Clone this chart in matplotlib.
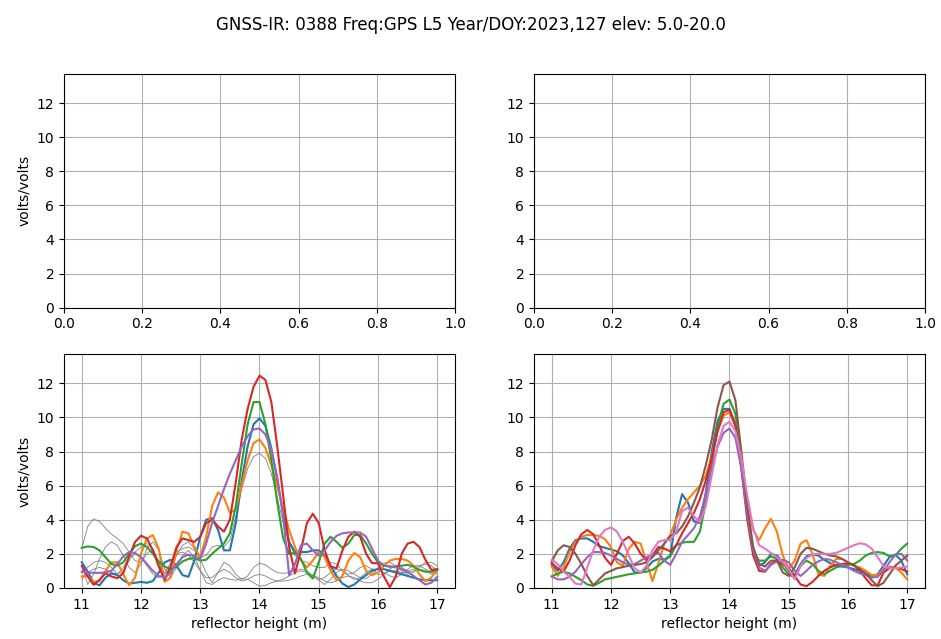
import numpy as np
import matplotlib
matplotlib.use("Agg")
import matplotlib.pyplot as plt

# reflector height grid (m)
rh = [round(11.0 + 0.1 * i, 1) for i in range(61)]

# ---------- bottom-left panel ----------
gray1 = [2.3, 3.6, 4.05, 3.9, 3.5, 3.15, 2.9, 2.6, 2.1, 1.6,
         1.5, 2.0, 2.3, 1.5, 0.6, 1.0, 1.9, 2.5, 2.7, 2.3,
         1.65, 0.9, 0.3, 0.9, 1.5, 1.3, 0.8, 0.5, 0.7, 1.2,
         1.45, 1.35, 1.1, 0.9, 0.85, 0.9, 1.0, 1.1, 1.0, 0.7,
         0.45, 0.2, 0.5, 0.9, 1.1, 1.0, 0.8, 0.6, 0.55, 0.8,
         1.2, 1.45, 1.5, 1.3, 1.0, 0.8, 0.9, 1.2, 1.5, 1.5, 1.3]
gray2 = [1.3, 0.2, 0.8, 1.7, 2.4, 2.7, 2.5, 1.9, 1.2, 0.9,
         1.4, 2.3, 2.7, 2.2, 1.1, 0.6, 1.2, 1.9, 2.2, 1.8,
         1.06, 0.3, 0.2, 0.45, 0.6, 0.5, 0.45, 0.55, 0.5, 0.3,
         0.1, 0.15, 0.3, 0.4, 0.4, 0.45, 0.55, 0.7, 0.8, 0.75,
         0.6, 0.4, 0.3, 0.4, 0.6, 0.7, 0.6, 0.4, 0.3, 0.3,
         0.5, 0.8, 1.0, 1.0, 0.9, 0.9, 1.0, 1.1, 1.0, 0.8, 0.9]
gray3 = [0.5, 0.9, 1.1, 1.2, 1.1, 0.9, 0.8, 1.2, 1.8, 2.0,
         1.8, 1.3, 0.8, 0.6, 0.9, 1.5, 2.0, 2.1, 1.9, 1.5,
         1.0, 0.6, 0.6, 0.9, 1.1, 0.9, 0.6, 0.4, 0.5, 0.7,
         0.8, 0.7, 0.5, 0.4, 0.5, 0.7, 0.9, 1.0, 0.9, 0.7,
         0.5, 0.6, 0.9, 1.1, 1.0, 0.7, 0.5, 0.6, 0.9, 1.1,
         1.1, 0.9, 0.7, 0.6, 0.8, 1.1, 1.3, 1.3, 1.1, 0.9, 0.8]
gray4 = [0.9, 1.2, 1.5, 1.6, 1.5, 1.2, 0.8, 1.0, 1.6, 2.1,
         2.4, 2.6, 2.3, 1.5, 0.8, 1.3, 2.1, 2.3, 2.4, 2.2,
         1.8, 1.9, 2.4, 2.5, 2.4, 2.8, 4.2, 5.8, 7.0, 7.7,
         7.9, 7.6, 6.7, 5.3, 3.8, 2.6, 1.9, 1.6, 1.5, 1.3,
         1.2, 1.2, 1.5, 1.4, 1.0, 0.8, 0.9, 1.2, 1.3, 1.1,
         0.8, 0.8, 1.1, 1.3, 1.2, 1.0, 1.1, 1.3, 1.4, 1.3, 1.0]

bl_blue = [1.5, 0.96, 0.3, 0.15, 0.6, 0.85, 0.75, 0.45, 0.25, 0.3,
           0.35, 0.3, 0.4, 0.9, 1.5, 1.65, 1.3, 0.75, 0.65, 1.6,
           3.0, 4.0, 4.1, 3.4, 2.2, 2.2, 3.8, 6.3, 8.3, 9.6,
           9.95, 9.5, 8.2, 6.3, 4.3, 2.7, 2.1, 2.1, 2.1, 2.2,
           2.2, 1.9, 1.3, 0.7, 0.25, 0.05, 0.2, 0.5, 0.75, 1.0,
           1.1, 1.1, 1.0, 0.9, 0.8, 0.7, 0.6, 0.5, 0.45, 0.45, 0.45]
bl_orange = [0.67, 0.7, 0.35, 0.4, 1.0, 1.5, 1.5, 0.8, 0.15, 0.6,
             2.0, 2.9, 3.1, 2.3, 0.35, 0.6, 2.2, 3.3, 3.2, 2.4,
             1.8, 3.0, 4.8, 5.6, 5.3, 4.4, 4.6, 6.0, 7.5, 8.5,
             8.7, 8.2, 7.2, 5.9, 4.7, 3.4, 2.4, 1.6, 1.2, 1.6,
             2.1, 1.8, 1.0, 0.45, 0.7, 1.6, 2.05, 1.8, 1.0, 0.75,
             0.9, 1.3, 1.6, 1.7, 1.7, 1.6, 1.3, 0.8, 0.4, 0.6, 1.1]
bl_green = [2.35, 2.43, 2.4, 2.2, 1.8, 1.4, 1.3, 1.5, 2.0, 2.45,
            2.6, 2.4, 2.0, 1.55, 1.25, 1.1, 1.25, 1.55, 1.7, 1.75,
            1.6, 1.65, 2.0, 2.3, 2.6, 3.2, 4.8, 7.3, 9.6, 10.9,
            10.9, 9.6, 7.5, 5.0, 2.9, 2.0, 2.05, 1.7, 0.9, 0.55,
            1.5, 2.6, 3.0, 2.7, 2.35, 2.6, 3.1, 3.1, 2.6, 2.0,
            1.5, 1.3, 1.25, 1.25, 1.3, 1.35, 1.25, 1.05, 0.95, 0.95, 1.05]
bl_red = [1.3, 0.67, 0.18, 0.47, 0.86, 0.67, 0.57, 0.86, 1.84, 2.7,
          3.06, 2.9, 2.2, 1.25, 0.47, 1.25, 2.4, 2.9, 2.8, 2.7,
          3.0, 3.8, 4.0, 3.6, 3.3, 4.0, 6.2, 8.7, 10.5, 11.8,
          12.45, 12.2, 10.9, 8.3, 5.4, 2.4, 0.85, 2.2, 3.8, 4.35,
          3.8, 2.2, 1.25, 1.15, 2.2, 3.0, 3.3, 3.0, 2.0, 1.45,
          1.45, 0.67, 0.04, 0.67, 2.0, 2.6, 2.7, 2.4, 1.65, 1.06, 1.1]
bl_purple = [0.96, 0.9, 0.88, 0.88, 0.9, 1.0, 1.4, 1.85, 2.1, 2.05,
             1.8, 1.4, 1.0, 0.7, 0.6, 0.9, 1.4, 1.8, 1.95, 1.85,
             1.7, 2.6, 3.8, 4.8, 5.8, 6.7, 7.5, 8.3, 8.9, 9.3,
             9.35, 9.0, 8.1, 6.5, 4.2, 0.75, 1.4, 2.5, 2.6, 2.2,
             1.9, 2.2, 2.7, 3.05, 3.2, 3.25, 3.25, 3.25, 3.0, 2.3,
             1.6, 1.3, 1.25, 1.2, 1.1, 0.95, 0.7, 0.45, 0.2, 0.3, 0.65]

# ---------- bottom-right panel ----------
br_blue = [1.35, 1.0, 1.5, 2.3, 2.8, 2.9, 2.9, 2.7, 2.45, 2.35,
           2.25, 2.15, 1.9, 1.45, 0.9, 0.9, 1.15, 1.55, 1.7, 1.65,
           1.9, 4.1, 5.5, 5.0, 3.9, 3.8, 5.6, 8.0, 9.8, 10.5,
           10.5, 9.6, 7.3, 4.5, 2.2, 1.3, 1.5, 2.0, 1.9, 1.5,
           1.0, 0.75, 1.4, 1.85, 1.95, 1.9, 1.65, 1.45, 1.3, 1.25,
           1.2, 1.1, 1.0, 0.85, 0.7, 0.8, 1.3, 1.8, 1.95, 1.6, 0.8]
br_orange = [1.25, 0.7, 1.2, 2.1, 2.7, 3.0, 3.1, 3.1, 3.05, 2.85,
             2.4, 1.5, 1.3, 2.3, 2.7, 2.6, 1.5, 0.4, 1.45, 2.6,
             3.1, 4.0, 4.7, 5.2, 5.6, 6.0, 6.6, 7.7, 9.2, 10.1,
             10.3, 9.5, 7.4, 4.9, 3.4, 2.8, 3.5, 4.05, 3.3, 1.9,
             1.1, 1.6, 2.6, 2.8, 2.0, 0.8, 0.7, 1.3, 1.7, 1.7,
             1.5, 1.3, 1.2, 1.0, 0.75, 0.75, 1.1, 1.25, 1.2, 0.9, 0.5]
br_green = [0.67, 0.85, 0.95, 0.85, 0.65, 0.45, 0.2, 0.12, 0.3, 0.5,
            0.57, 0.65, 0.72, 0.8, 0.85, 0.9, 0.95, 1.06, 1.3, 1.6,
            1.85, 2.5, 2.65, 2.7, 2.7, 3.3, 5.0, 7.3, 9.5, 10.8,
            11.05, 10.2, 7.6, 4.4, 2.1, 1.6, 1.6, 1.85, 1.7, 1.2,
            0.8, 0.6, 1.3, 1.6, 1.4, 1.0, 0.8, 1.0, 1.2, 1.3,
            1.35, 1.4, 1.6, 1.9, 2.05, 2.1, 2.05, 1.85, 1.9, 2.3, 2.6]
br_red = [1.45, 1.15, 0.96, 1.6, 2.5, 3.15, 3.4, 3.15, 2.5, 1.75,
          1.35, 2.0, 2.75, 3.0, 2.6, 2.0, 1.65, 1.9, 2.4, 2.3,
          2.15, 2.5, 3.2, 3.8, 4.4, 5.2, 6.3, 7.6, 9.2, 10.3,
          10.45, 9.5, 7.0, 4.0, 1.9, 1.0, 0.95, 1.4, 1.65, 1.4,
          1.15, 0.7, 0.2, 0.1, 0.35, 0.7, 1.0, 1.2, 1.35, 1.4,
          1.45, 1.35, 1.0, 0.55, 0.15, 0.15, 0.9, 1.15, 1.2, 1.1, 0.96]
br_purple = [0.67, 0.5, 0.5, 0.65, 0.95, 1.4, 1.8, 2.1, 2.1, 2.05,
             1.9, 1.7, 1.5, 1.35, 1.4, 1.6, 1.8, 1.95, 2.05, 1.6,
             1.35, 2.0, 2.7, 3.1, 3.5, 4.2, 5.5, 7.0, 8.3, 9.1,
             9.35, 8.8, 7.0, 4.3, 2.2, 1.2, 1.0, 1.35, 1.55, 1.65,
             1.5, 1.0, 0.7, 1.0, 1.35, 1.55, 1.7, 1.65, 1.5, 1.35,
             1.2, 1.0, 0.85, 0.75, 0.6, 0.65, 1.0, 1.5, 1.95, 2.0, 1.6]
br_brown = [1.55, 2.2, 2.5, 2.4, 2.0, 1.4, 0.7, 0.15, 0.5, 0.85,
            1.0, 1.15, 1.22, 1.3, 1.35, 1.4, 1.5, 1.8, 2.2, 2.6,
            3.05, 3.2, 3.6, 4.2, 5.0, 5.9, 7.2, 8.7, 10.6, 11.9,
            12.1, 11.0, 8.0, 4.8, 2.4, 1.4, 1.25, 1.6, 1.6, 0.9,
            0.7, 1.2, 2.0, 2.35, 2.3, 2.15, 2.0, 1.9, 1.85, 1.7,
            1.5, 1.3, 1.1, 0.85, 0.45, 0.1, 0.3, 0.8, 1.3, 1.6, 1.9]
br_pink = [1.65, 1.4, 0.95, 0.65, 0.25, 0.2, 1.2, 2.2, 3.0, 3.4,
           3.55, 3.3, 2.7, 1.9, 1.15, 0.9, 1.3, 2.2, 2.7, 2.8,
           2.8, 3.3, 4.5, 4.7, 4.2, 3.85, 4.8, 6.6, 8.4, 9.5,
           9.75, 9.2, 7.6, 5.4, 3.5, 2.5, 2.3, 2.05, 1.8, 1.5,
           1.1, 0.5, 1.3, 1.75, 1.95, 2.0, 2.0, 2.0, 2.05, 2.2,
           2.35, 2.5, 2.62, 2.55, 2.3, 1.8, 1.3, 1.15, 1.15, 1.2, 1.25]

title = "GNSS-IR: 0388 Freq:GPS L5 Year/DOY:2023,127 elev: 5.0-20.0"
yticks = [0, 2, 4, 6, 8, 10, 12]
xticks = [11, 12, 13, 14, 15, 16, 17]

fig, axes = plt.subplots(2, 2, figsize=(9.41, 6.39), dpi=100)
fig.subplots_adjust(left=0.068, right=0.983, top=0.884, bottom=0.080,
                    wspace=0.202, hspace=0.2)
fig.suptitle(title, fontsize=12, y=0.975)

ymax = 13.7
for ax in axes[0]:
    ax.set_xlim(0, 1)
    ax.set_ylim(0, ymax)
    ax.set_yticks(yticks)
    ax.grid(True)

axL = axes[1, 0]
for g in (gray1, gray2, gray3, gray4):
    axL.plot(rh, g, color='gray', lw=0.6)
for s in (bl_blue, bl_orange, bl_green, bl_red, bl_purple):
    axL.plot(rh, s, lw=1.5)

axR = axes[1, 1]
for s in (br_blue, br_orange, br_green, br_red, br_purple, br_brown, br_pink):
    axR.plot(rh, s, lw=1.5)

for ax in axes[1]:
    ax.set_ylim(0, ymax)
    ax.set_xlim(10.7, 17.3)
    ax.set_xticks(xticks)
    ax.set_yticks(yticks)
    ax.grid(True)
    ax.set_xlabel('reflector height (m)')

axes[0, 0].set_ylabel('volts/volts')
axes[1, 0].set_ylabel('volts/volts')

fig.savefig('out.png', dpi=100)
